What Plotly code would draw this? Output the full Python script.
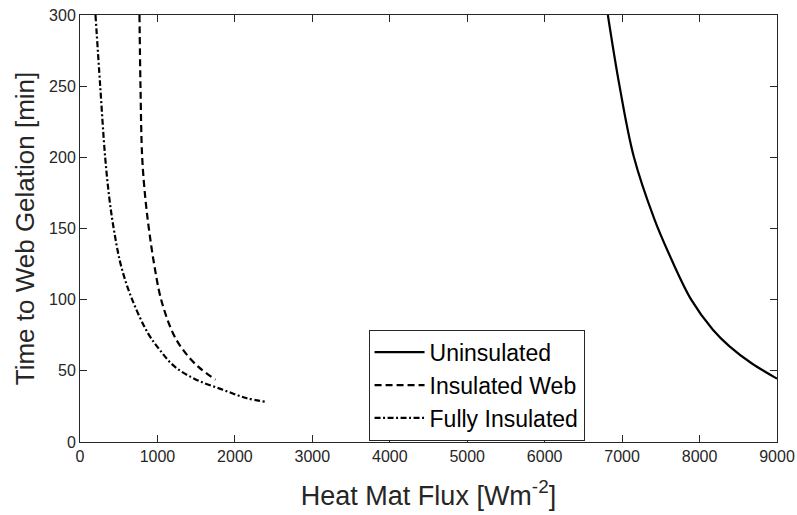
import plotly.graph_objects as go

# Heat mat flux [W m^-2] vs. time to web gelation [min]
unins_flux = [6816, 6967, 7153, 7419, 7600, 7892, 8172, 8387, 8667, 9000]
unins_time = [300, 250, 200, 156.2, 132.8, 100, 78.9, 67.2, 55.5, 44.5]

web_flux = [768, 781, 803, 846, 897, 962, 1048, 1199, 1328, 1522, 1750]
web_time = [300, 250, 200, 170, 146.8, 123.4, 100, 76.6, 64.9, 53.1, 43.8]

full_flux = [200, 261, 325, 381, 445, 532, 674, 876, 1027, 1220, 1500, 1844, 2146, 2400]
full_time = [300, 250, 200, 170.3, 146.8, 123.4, 100, 76.6, 64.9, 53.1, 43.8, 36.7, 30.9, 28.2]

x_ticks = [0, 1000, 2000, 3000, 4000, 5000, 6000, 7000, 8000, 9000]
y_ticks = [0, 50, 100, 150, 200, 250, 300]

FONT = "Liberation Sans, Arial, sans-serif"
AX = "#262626"

fig = go.Figure()
series = [
    ("Uninsulated", unins_flux, unins_time, "solid"),
    ("Insulated Web", web_flux, web_time, "7px,4px"),
    ("Fully Insulated", full_flux, full_time, "6px,2.5px,2px,2.5px"),
]
for name, x, y, dash in series:
    fig.add_trace(go.Scatter(
        x=x, y=y, name=name, mode="lines",
        line=dict(color="black", width=2.2, dash=dash, shape="spline", smoothing=1.0),
    ))

axis_common = dict(
    showline=True, linecolor=AX, linewidth=1, mirror="ticks",
    ticks="inside", ticklen=7, tickcolor=AX, tickwidth=1,
    showgrid=False, zeroline=False, automargin=False,
    tickfont=dict(family=FONT, size=16, color=AX),
)

fig.update_layout(
    width=797, height=515,
    margin=dict(l=80, r=20, t=15, b=73),
    paper_bgcolor="white", plot_bgcolor="white",
    font=dict(family=FONT, color=AX),
    xaxis=dict(range=[0, 9000], tickvals=x_ticks,
               title=dict(text="Heat Mat Flux [Wm<sup>-2</sup>]", font=dict(size=27, color=AX), standoff=21),
               **axis_common),
    yaxis=dict(range=[0, 300], tickvals=y_ticks,
               title=dict(text="Time to Web Gelation [min]", font=dict(size=26, color=AX), standoff=6),
               **axis_common),
    legend=dict(
        x=0.414, y=0.003, xanchor="left", yanchor="bottom",
        bgcolor="white", bordercolor=AX, borderwidth=1,
        font=dict(family=FONT, size=23, color="black"),
        itemwidth=50, tracegroupgap=0,
    ),
)

fig.write_html("out.html")
